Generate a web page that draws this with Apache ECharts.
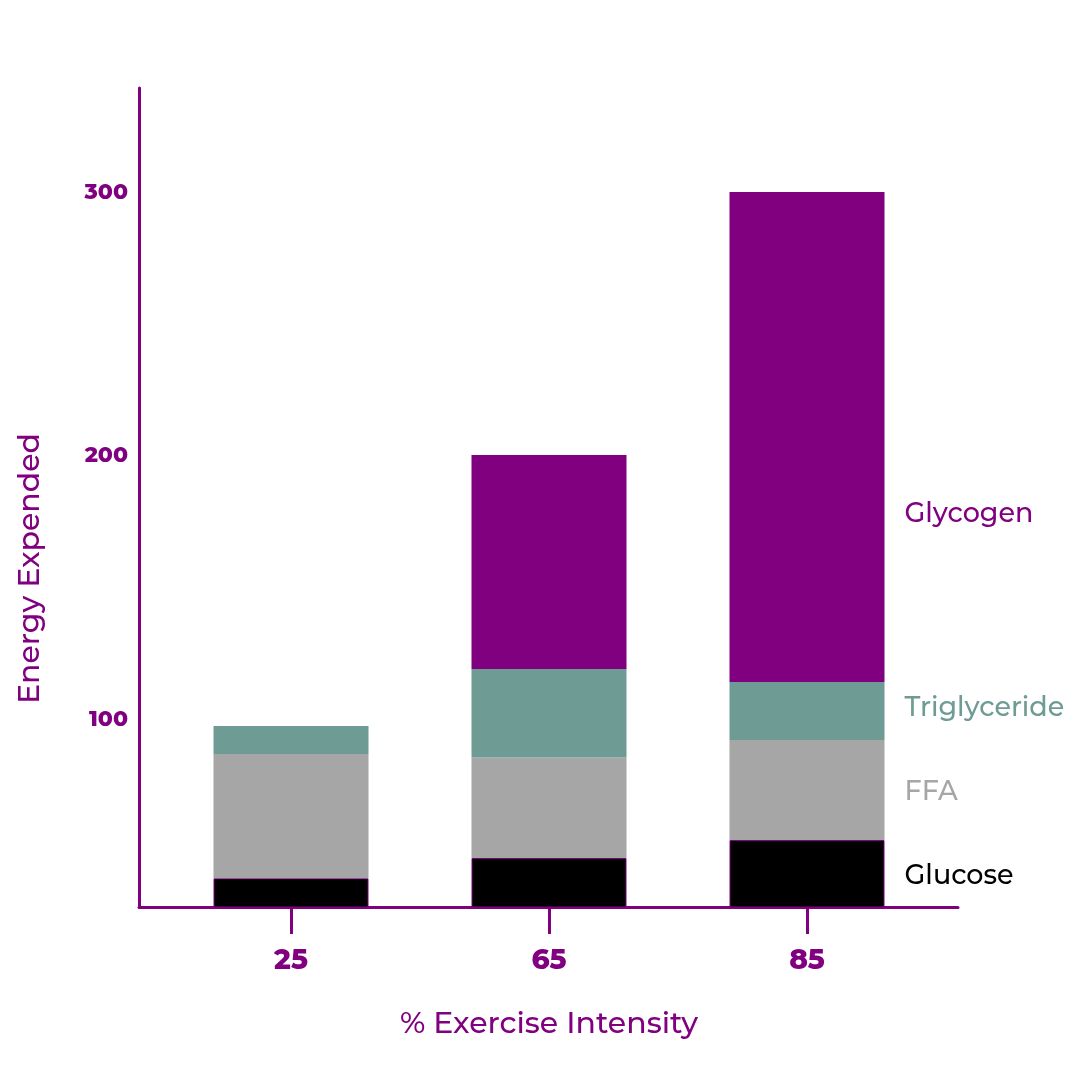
<!DOCTYPE html>
<html>
<head>
<meta charset="utf-8">
<script src="https://cdn.jsdelivr.net/npm/echarts@6/dist/echarts.min.js"></script>
<style>html,body{margin:0;padding:0;background:#fff}#c{width:1080px;height:1080px}</style>
</head>
<body>
<div id="c"></div>
<script>
var categories = ['25', '65', '85'];
var glucose = [39.6, 47.3, 54.1];
var ffa = [47.2, 38.1, 38.0];
var triglyceride = [10.6, 33.6, 22.0];
var glycogen = [0, 81.2, 185.9];
var yTicks = [100, 200, 300];

var PURPLE = '#800080';
var TEAL = '#6e9b94';
var GRAY = '#a6a6a6';
var FONT = 'Montserrat, Inter, sans-serif';

function withEndLabel(arr, color, offset) {
  return arr.map(function (v, i) {
    if (i !== arr.length - 1) return v;
    return {
      value: v,
      label: {
        show: true, position: 'right', distance: 20,
        formatter: '{a}', color: color, fontFamily: FONT,
        fontSize: 27, fontWeight: 500, offset: offset || [0, 2]
      }
    };
  });
}

var yMin = 28.7, yMax = 339.5;

var chart = echarts.init(document.getElementById('c'), null, {renderer: 'canvas'});
chart.setOption({
  backgroundColor: '#fff',
  animation: false,
  grid: [
    {left: 162, right: 144, top: 88, bottom: 173},
    {left: 139, right: 122, top: 88, bottom: 173}
  ],
  xAxis: [
    {
      type: 'category', gridIndex: 0, data: categories,
      axisLine: {show: false},
      axisTick: {show: true, alignWithLabel: true, length: 27, lineStyle: {color: PURPLE, width: 3}},
      axisLabel: {color: PURPLE, fontFamily: FONT, fontSize: 28, fontWeight: 800, margin: 40},
      name: '% Exercise Intensity', nameLocation: 'middle', nameGap: 102,
      nameTextStyle: {color: PURPLE, fontFamily: FONT, fontSize: 30, fontWeight: 500}
    },
    {
      type: 'value', gridIndex: 1, min: 0, max: 1,
      axisLine: {show: true, lineStyle: {color: PURPLE, width: 3}},
      axisTick: {show: false}, axisLabel: {show: false}, splitLine: {show: false}
    }
  ],
  yAxis: [
    {
      type: 'value', gridIndex: 0, min: yMin, max: yMax, show: false
    },
    {
      type: 'value', gridIndex: 1, min: yMin, max: yMax,
      axisLine: {show: true, lineStyle: {color: PURPLE, width: 3}},
      axisTick: {show: false},
      splitLine: {show: false},
      axisLabel: {
        customValues: yTicks, color: PURPLE, fontFamily: FONT,
        fontSize: 22, fontWeight: 800, margin: 11
      },
      name: 'Energy Expended', nameLocation: 'middle', nameGap: 94,
      nameTextStyle: {color: PURPLE, fontFamily: FONT, fontSize: 30, fontWeight: 500, padding: [0, 142, 0, 0]}
    }
  ],
  series: [
    {
      name: 'Glucose', type: 'bar', stack: 'e', xAxisIndex: 0, yAxisIndex: 0,
      barWidth: 155, data: withEndLabel(glucose, '#000000'),
      itemStyle: {color: '#000000', borderColor: PURPLE, borderWidth: 1}
    },
    {
      name: 'FFA', type: 'bar', stack: 'e', xAxisIndex: 0, yAxisIndex: 0,
      barWidth: 155, data: withEndLabel(ffa, GRAY),
      itemStyle: {color: GRAY}
    },
    {
      name: 'Triglyceride', type: 'bar', stack: 'e', xAxisIndex: 0, yAxisIndex: 0,
      barWidth: 155, data: withEndLabel(triglyceride, TEAL, [0, -3]),
      itemStyle: {color: TEAL}
    },
    {
      name: 'Glycogen', type: 'bar', stack: 'e', xAxisIndex: 0, yAxisIndex: 0,
      barWidth: 155, data: withEndLabel(glycogen, PURPLE, [0, 77]),
      itemStyle: {color: PURPLE}
    }
  ]
});
</script>
</body>
</html>
